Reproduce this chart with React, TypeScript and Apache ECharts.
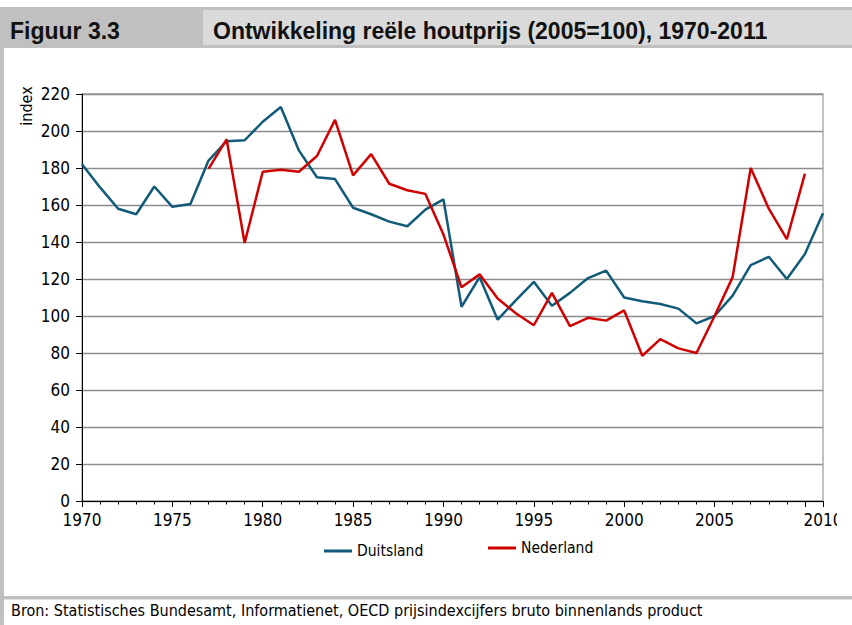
import React, { useEffect, useRef } from "react";
import * as echarts from "echarts";

const years = [
  "1970", "1971", "1972", "1973", "1974", "1975", "1976", "1977", "1978", "1979",
  "1980", "1981", "1982", "1983", "1984", "1985", "1986", "1987", "1988", "1989",
  "1990", "1991", "1992", "1993", "1994", "1995", "1996", "1997", "1998", "1999",
  "2000", "2001", "2002", "2003", "2004", "2005", "2006", "2007", "2008", "2009",
  "2010", "2011",
];

const duitsland = [
  182, 169.5, 158, 155, 170, 159, 160.5, 184, 194.5, 195,
  205, 213, 189.5, 175, 174, 158.5, 155, 151, 148.5, 157.5,
  163, 105, 121, 98, 108.5, 118.5, 105.5, 112.5, 120.5, 124.5,
  110, 108, 106.5, 104, 96, 100, 111, 127.5, 132, 120,
  133.5, 155.5,
];

const nederland = [
  null, null, null, null, null, null, null, 179.5, 195.5, 139.5,
  178, 179, 178, 186.5, 206, 176, 187.5, 171.5, 168, 166,
  144, 115.5, 122.5, 109.5, 101.5, 95, 112.5, 94.5, 99, 97.5,
  103, 78.5, 87.5, 82.5, 80, 100, 121, 180, 158, 141.5,
  177, null,
];

const yTicks = { min: 0, max: 220, interval: 20 };
const seriesNames = ["Duitsland", "Nederland"];
const titleLeft = "Figuur 3.3";
const titleRight = "Ontwikkeling reële houtprijs (2005=100), 1970-2011";
const source = "Bron: Statistisches Bundesamt, Informatienet, OECD prijsindexcijfers bruto binnenlands product";

const NARROW = "'Liberation Sans Narrow', 'Arial Narrow', 'DejaVu Sans Condensed', 'Liberation Sans', sans-serif";
const BOLD = "'Liberation Sans', Arial, sans-serif";
const BLUE = "#115b79";
const RED = "#d00000";

export default function App() {
  const ref = useRef<HTMLDivElement>(null);

  useEffect(() => {
    if (!ref.current) return;
    const chart = echarts.init(ref.current, undefined, { renderer: "svg" });
    const lastIdx = years.length - 1;
    const labelShown = (i: number) => (i % 5 === 0 && i <= 35) || i === lastIdx;
    const majorTick = (i: number) => i % 5 === 0 || i === lastIdx;

    const legendCommon = {
      padding: 0,
      icon: "rect",
      itemWidth: 28,
      itemHeight: 3,
      itemGap: 0,
      textStyle: { color: "#000", fontFamily: NARROW, fontSize: 15.5 },
      selectedMode: false,
    };

    chart.setOption({
      animation: false,
      backgroundColor: "#ffffff",
      grid: {
        left: 82,
        top: 94,
        width: 741,
        height: 407,
        show: true,
        borderColor: "#a0a0a0",
        borderWidth: 1.3,
        backgroundColor: "transparent",
      },
      xAxis: [
        {
          type: "category",
          data: years,
          boundaryGap: false,
          position: "bottom",
          axisLine: { show: true, lineStyle: { color: "#000", width: 1 } },
          axisTick: { show: true, interval: 0, length: 3.5, lineStyle: { color: "#000", width: 1 } },
          axisLabel: {
            interval: (i: number) => labelShown(i),
            formatter: (v: string) => (v === "2011" ? "2010" : v),
            color: "#000",
            fontFamily: NARROW,
            fontSize: 17,
            margin: 10,
          },
          splitLine: { show: false },
        },
        {
          type: "category",
          data: years,
          boundaryGap: false,
          position: "bottom",
          axisLine: { show: false },
          axisTick: {
            show: true,
            interval: (i: number) => majorTick(i),
            length: 6,
            lineStyle: { color: "#000", width: 1 },
          },
          axisLabel: { show: false },
          splitLine: { show: false },
        },
      ],
      yAxis: {
        type: "value",
        min: yTicks.min,
        max: yTicks.max,
        interval: yTicks.interval,
        axisLine: { show: true, lineStyle: { color: "#000", width: 1 } },
        axisTick: { show: true, length: 6, lineStyle: { color: "#000", width: 1 } },
        axisLabel: { color: "#000", fontFamily: NARROW, fontSize: 17, margin: 12 },
        splitLine: { show: true, lineStyle: { color: "#8c8c8c", width: 1.3 } },
      },
      legend: [
        { ...legendCommon, data: [seriesNames[0]], left: 324, top: 543 },
        { ...legendCommon, data: [seriesNames[1]], left: 488, top: 540 },
      ],
      series: [
        {
          name: seriesNames[0],
          type: "line",
          data: duitsland,
          symbol: "none",
          connectNulls: false,
          itemStyle: { color: BLUE },
          lineStyle: { color: BLUE, width: 2.5 },
          z: 3,
        },
        {
          name: seriesNames[1],
          type: "line",
          data: nederland,
          symbol: "none",
          connectNulls: false,
          itemStyle: { color: RED },
          lineStyle: { color: RED, width: 2.5 },
          z: 4,
        },
      ],
      graphic: [
        { type: "rect", shape: { x: 0, y: 7, width: 852, height: 41 }, style: { fill: "#c0c0c0" }, z: 1 },
        { type: "rect", shape: { x: 203, y: 10, width: 649, height: 35 }, style: { fill: "#dadada" }, z: 2 },
        { type: "rect", shape: { x: 0, y: 48, width: 4, height: 577 }, style: { fill: "#c0c0c0" }, z: 1 },
        { type: "rect", shape: { x: 0, y: 596, width: 852, height: 3.5 }, style: { fill: "#c0c0c0" }, z: 1 },
        { type: "rect", shape: { x: 837, y: 504, width: 15, height: 26 }, style: { fill: "#ffffff" }, z: 100 },
        {
          type: "text",
          x: 10,
          y: 30.5,
          z: 5,
          style: { text: titleLeft, fill: "#111", font: `bold 23px ${BOLD}`, verticalAlign: "middle" },
        },
        {
          type: "text",
          x: 213,
          y: 30.5,
          z: 5,
          style: { text: titleRight, fill: "#111", font: `bold 23px ${BOLD}`, verticalAlign: "middle" },
        },
        {
          type: "text",
          x: 26,
          y: 106,
          rotation: Math.PI / 2,
          z: 5,
          style: { text: "index", fill: "#000", font: `16px ${NARROW}`, align: "center", verticalAlign: "middle" },
        },
        {
          type: "text",
          x: 11,
          y: 610,
          z: 5,
          style: { text: source, fill: "#000", font: `16px ${NARROW}`, verticalAlign: "middle" },
        },
      ],
    });
    return () => chart.dispose();
  }, []);

  return (
    <div
      ref={ref}
      style={{ position: "absolute", left: 0, top: 0, width: 852, height: 625, background: "#fff" }}
    />
  );
}
